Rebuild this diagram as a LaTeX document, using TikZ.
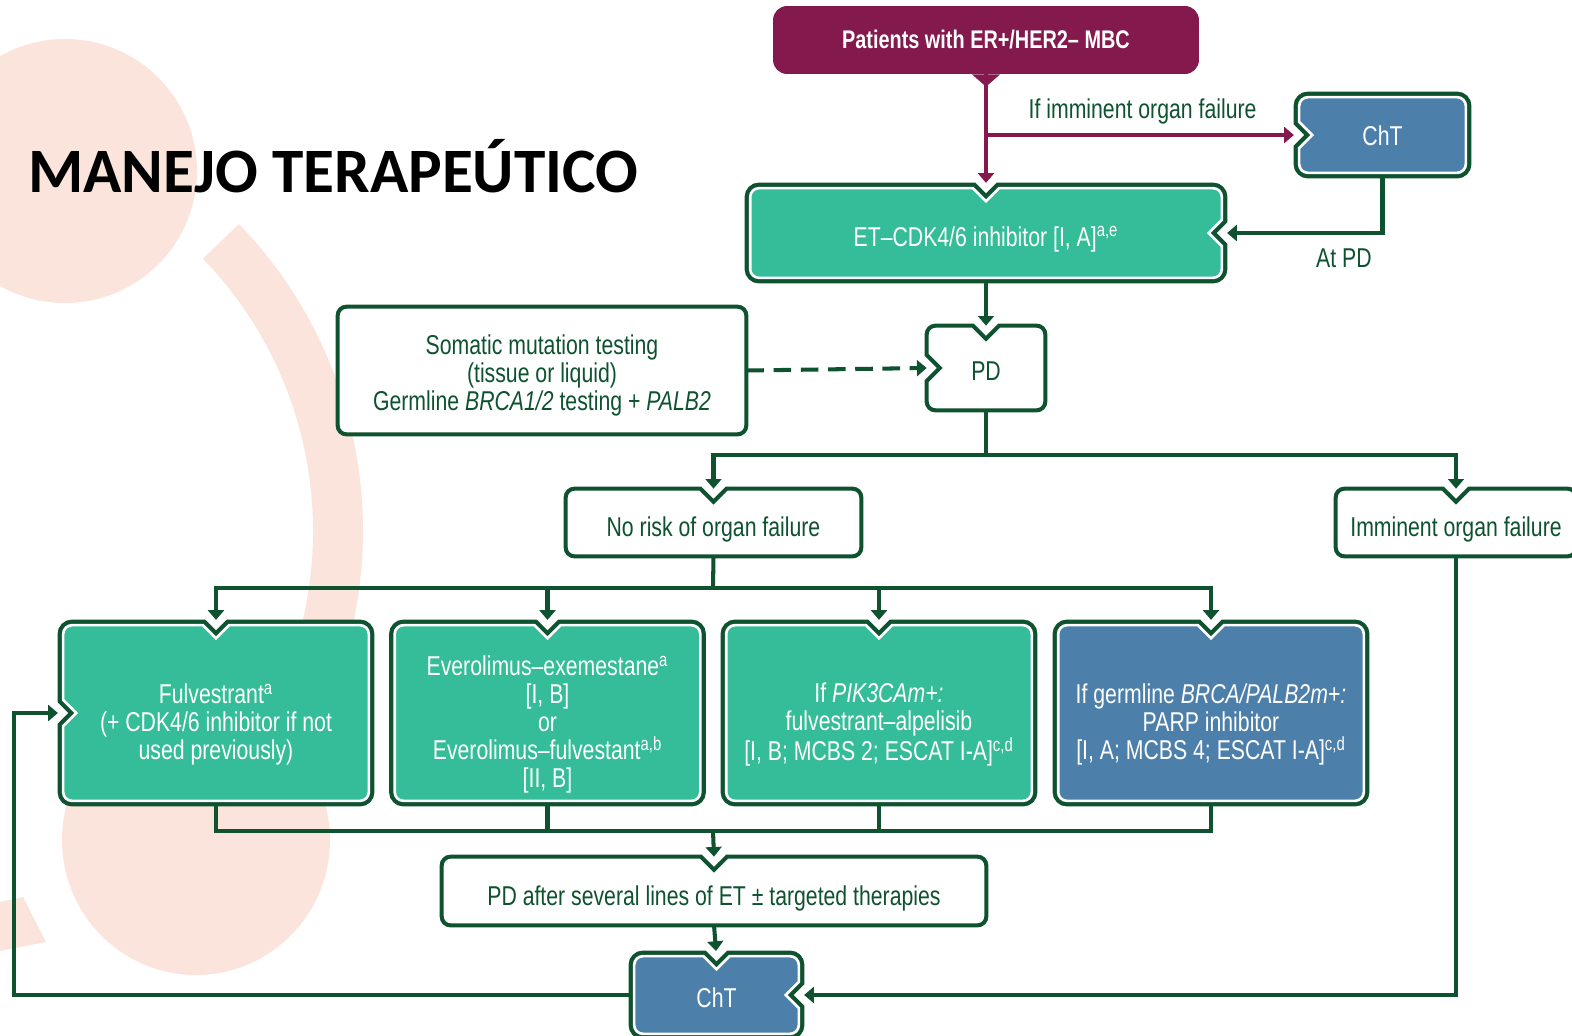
\documentclass[tikz,border=0pt]{standalone}
\usepackage{fontspec}
\setmainfont{Liberation Sans}[FakeStretch=0.78]
\newfontfamily\titlefont{Carlito}
\usetikzlibrary{arrows.meta, calc}
\definecolor{dkgreen}{HTML}{0E5230}
\definecolor{maroon}{HTML}{83194D}
\definecolor{tealf}{HTML}{34BD98}
\definecolor{bluef}{HTML}{4D7FAB}
\definecolor{pale}{HTML}{FBE4DC}
\pgfdeclarelayer{deco}
\pgfdeclarelayer{boxes}
\pgfsetlayers{deco,boxes,main}

% outline of a box node, with optional notches (top, left, right) where arrows come in
\newcommand{\nbox}[5]{%
  \def\notchT{}\def\notchL{}\def\notchR{}%
  \ifnum#3=1 \def\notchT{-- ([xshift=-7.4pt]#2.north) -- ([yshift=-7.4pt]#2.north) -- ([xshift=7.4pt]#2.north)}\fi
  \ifnum#4=1 \def\notchL{-- ([yshift=-7.4pt]#2.west) -- ([xshift=7.4pt]#2.west) -- ([yshift=7.4pt]#2.west)}\fi
  \ifnum#5=1 \def\notchR{-- ([yshift=7.4pt]#2.east) -- ([xshift=-7.4pt]#2.east) -- ([yshift=-7.4pt]#2.east)}\fi
  \begin{pgfonlayer}{boxes}
    \draw[#1] (#2.south) -- ([xshift=5pt]#2.south west) arc[start angle=270, end angle=180, radius=5pt]
      \notchL -- ([yshift=-5pt]#2.north west) arc[start angle=180, end angle=90, radius=5pt]
      \notchT -- ([xshift=-5pt]#2.north east) arc[start angle=90, end angle=0, radius=5pt]
      \notchR -- ([yshift=5pt]#2.south east) arc[start angle=0, end angle=-90, radius=5pt] -- cycle;
  \end{pgfonlayer}}

\begin{document}
\begin{tikzpicture}[
  x=0.02cm, y=-0.02cm,
  geo/.style={rectangle, inner sep=0pt},
  txt/.style={font=\fontsize{15.5}{16}\selectfont, align=center, inner sep=0pt},
  gtxt/.style={txt, text=dkgreen},
  wtxt/.style={txt, text=white},
  wbox/.style={fill=white, draw=dkgreen, line width=2.3pt},
  dbox/.style={draw=white, line width=1.5pt, preaction={draw=dkgreen, line width=6.3pt}},
  gline/.style={dkgreen, line width=2.3pt},
  garrow/.style={gline, -{Triangle[width=9pt,length=5.5pt]}},
  marrow/.style={maroon, line width=2.3pt, -{Triangle[width=9pt,length=5.5pt]}},
  indbox/.style={shorten >=3pt},
  outdbox/.style={shorten <=3pt}
]
\useasboundingbox (0,0) rectangle (1572,1035);

% background shapes
\begin{pgfonlayer}{deco}
  \fill[pale] (65,171) circle[radius=132];
  \draw[pale, line width=1cm] ($(-79,531)+(-44:417)$) arc[start angle=-44, end angle=35, radius=417];
  \fill[pale] (196,840) ellipse[x radius=134, y radius=135];
  \fill[pale] (0,902) -- (23,897) -- (46,942) -- (0,951) -- cycle;
\end{pgfonlayer}

\node[anchor=base west, font=\titlefont\bfseries\fontsize{36}{40}\selectfont] (title) at (22,192) {MANEJO TERAPEÚTICO};

% boxes
\node[geo, fill=maroon, rounded corners=8pt, minimum width=8.52cm, minimum height=1.36cm, text=white, font=\bfseries\fontsize{14.5}{16}\selectfont] (pat) at (986,40) {Patients with ER+/HER2– MBC};
\fill[maroon] ([xshift=-8pt]pat.south) -- ([yshift=-7pt]pat.south) -- ([xshift=8pt]pat.south) -- cycle;

\node[geo, minimum width=9.42cm, minimum height=1.78cm] (et) at (986,233) {};
\node[geo, minimum width=3.32cm, minimum height=1.5cm] (cht1) at (1382.5,135) {};
\node[geo, minimum width=8.16cm, minimum height=2.54cm] (som) at (542,370.5) {};
\node[geo, minimum width=2.36cm, minimum height=1.68cm] (pd) at (986,368) {};
\node[geo, minimum width=5.9cm, minimum height=1.34cm] (norisk) at (713.5,522.5) {};
\node[geo, minimum width=4.8cm, minimum height=1.34cm] (immi) at (1456,522.5) {};
\node[geo, minimum width=6.1cm, minimum height=3.5cm] (fulv) at (216,713) {};
\node[geo, minimum width=6.1cm, minimum height=3.5cm] (ever) at (547.5,713) {};
\node[geo, minimum width=6.1cm, minimum height=3.5cm] (pik) at (879,713) {};
\node[geo, minimum width=6.1cm, minimum height=3.5cm] (brca) at (1211,713) {};
\node[geo, minimum width=10.88cm, minimum height=1.36cm] (pdafter) at (714,891) {};
\node[geo, minimum width=3.28cm, minimum height=1.54cm] (cht2) at (716.5,995) {};

\nbox{dbox, fill=tealf}{et}{1}{0}{1}
\nbox{dbox, fill=bluef}{cht1}{0}{1}{0}
\nbox{wbox}{som}{0}{0}{0}
\nbox{wbox}{pd}{1}{1}{0}
\nbox{wbox}{norisk}{1}{0}{0}
\nbox{wbox}{immi}{1}{0}{0}
\nbox{dbox, fill=tealf}{fulv}{1}{1}{0}
\nbox{dbox, fill=tealf}{ever}{1}{0}{0}
\nbox{dbox, fill=tealf}{pik}{1}{0}{0}
\nbox{dbox, fill=bluef}{brca}{1}{0}{0}
\nbox{wbox}{pdafter}{1}{0}{0}
\nbox{dbox, fill=bluef}{cht2}{1}{0}{1}

% box texts
\node[wtxt] (et-t) at ([yshift=-3.4pt]et.center) {ET–CDK4/6 inhibitor [I, A]\textsuperscript{a,e}};
\node[wtxt] (cht1-t) at ([yshift=-0.6pt]cht1.center) {ChT};
\node[gtxt] (som-t) at ([yshift=-2.8pt]som.center) {Somatic mutation testing\\(tissue or liquid)\\Germline \textit{BRCA1/2} testing + \textit{PALB2}};
\node[gtxt] (pd-t) at ([yshift=-1.7pt]pd.center) {PD};
\node[gtxt] (norisk-t) at ([yshift=-4pt]norisk.center) {No risk of organ failure};
\node[gtxt] (immi-t) at ([yshift=-4pt]immi.center) {Imminent organ failure};
\node[wtxt] (fulv-t) at ([yshift=-6.5pt]fulv.center) {Fulvestrant\textsuperscript{a}\\(+ CDK4/6 inhibitor if not\\used previously)};
\node[wtxt] (ever-t) at ([yshift=-6.5pt]ever.center) {Everolimus–exemestane\textsuperscript{a}\\{[I, B]}\\or\\Everolimus–fulvestant\textsuperscript{a,b}\\{[II, B]}};
\node[wtxt] (pik-t) at ([yshift=-6.5pt]pik.center) {If \textit{PIK3CAm+:}\\fulvestrant–alpelisib\\{[I, B; MCBS 2; ESCAT I-A]}\textsuperscript{c,d}};
\node[wtxt] (brca-t) at ([yshift=-6.5pt]brca.center) {If germline \textit{BRCA/PALB2m+:}\\PARP inhibitor\\{[I, A; MCBS 4; ESCAT I-A]}\textsuperscript{c,d}};
\node[gtxt] (pdafter-t) at ([yshift=-4pt]pdafter.center) {PD after several lines of ET ± targeted therapies};
\node[wtxt] (cht2-t) at ([yshift=-1.7pt]cht2.center) {ChT};

% connectors
\coordinate (pdfork) at (986,455);
\coordinate (trfork) at (713,588);
\coordinate (trjoin) at (713,831);
\coordinate (loop) at (14,713);

\draw[marrow, indbox] (pat.south) -- (et.north);
\draw[marrow, indbox] (pat.south |- cht1.west) -- node[gtxt, above=5pt] (lbl-if) {If imminent organ failure} (cht1.west);
\draw[garrow, outdbox, indbox] (cht1.south) |- node[gtxt, below=8pt, pos=0.62] (lbl-at) {At PD} (et.east);
\draw[garrow, outdbox] (et.south) -- (pd.north);
\draw[garrow, dash pattern=on 10pt off 5.5pt] (som.east) -- (pd.west);
\draw[garrow] (pd.south) -- (pdfork) -| (norisk.north);
\draw[garrow] (pdfork) -| (immi.north);
\draw[gline] (norisk.south) -- (trfork);
\foreach \n in {fulv,ever,pik,brca}
  \draw[garrow, indbox] (trfork) -| (\n.north);
\foreach \n in {fulv,ever,pik,brca}
  \draw[gline, outdbox] (\n.south) |- (trjoin);
\draw[garrow] (trjoin) -- (pdafter.north);
\draw[garrow, indbox] (pdafter.south) -- (cht2.north);
\draw[garrow, indbox] (immi.south) |- (cht2.east);
\draw[garrow, outdbox, indbox] (cht2.west) -| (loop) -- (fulv.west);
\end{tikzpicture}
\end{document}
